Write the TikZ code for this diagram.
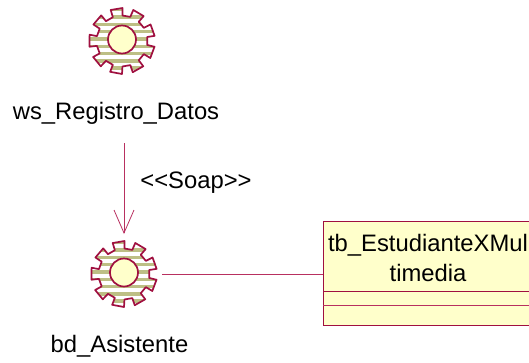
\documentclass[tikz,border=0pt]{standalone}
\usepackage{fontspec}
\setmainfont{Liberation Sans}
\usetikzlibrary{arrows.meta}

\definecolor{umlline}{HTML}{A01040}
\definecolor{umlpink}{HTML}{B83060}
\definecolor{umlfill}{HTML}{FFFFCB}
\definecolor{gearband}{HTML}{BDBF85}

\tikzset{
  umltext/.style={font=\fontsize{23.8}{30}\selectfont, inner sep=0pt},
  umlconn/.style={umlpink, line width=0.8pt},
  gear/.pic={
    \def\gearoutline{(20-29:25.5) \foreach \a in {20,60,...,340} {
        -- (\a-11:25.5) -- (\a-10:33) -- (\a+11:33) -- (\a+11:25.5)} -- cycle}
    \begin{scope}
      \clip \gearoutline;
      \fill[white] (-35,-35) rectangle (35,35);
      \foreach \y in {-33,-25.7,...,33}
        \fill[gearband] (-35,\y) rectangle (35,\y+3.4);
    \end{scope}
    \draw[umlline, line width=1.7pt, line join=round] \gearoutline;
    \draw[umlline, fill=umlfill, line width=1.7pt] (0,-1.5) circle (14);
  }
}

\begin{document}
\begin{tikzpicture}[x=1pt, y=-1pt]
        \useasboundingbox (0,0) rectangle (529,362);

        % the two gears
        \pic at (122,41) {gear};
        \pic at (124,274) {gear};

        \coordinate (wstop) at (124,143);
        \coordinate (bdtip) at (124,234);
        \coordinate (bdright) at (162,274);

        \node[umltext, anchor=base] (wslabel) at (116,119) {ws\_Registro\_Datos};
        \node[umltext, anchor=base] (bdlabel) at (119.5,352.5) {bd\_Asistente};
        \node[umltext, anchor=base] (soaplabel) at (196,188) {<{}<Soap>{}>};

        % class box, runs off the right edge
        \begin{scope}
          \clip (0,0) rectangle (529,362);
          \node[draw=umlline, fill=umlfill, line width=0.8pt, inner sep=0pt,
                minimum width=230pt, minimum height=104pt, anchor=north west] (tbbox) at (323,221) {};
          \draw[umlline, line width=0.8pt] (323,291) -- (553,291);
          \draw[umlconn] (323,305.5) -- (553,305.5);
        \end{scope}
        \node[umltext, align=center, anchor=north] (tblabel) at (428,234) {tb\_EstudianteXMul\\timedia};

        \draw[umlconn, -{Straight Barb[length=23pt, width=20pt]}] (wstop) -- (bdtip);
        \draw[umlconn] (bdright) -- (tbbox.west |- bdright);
      \end{tikzpicture}
\end{document}
